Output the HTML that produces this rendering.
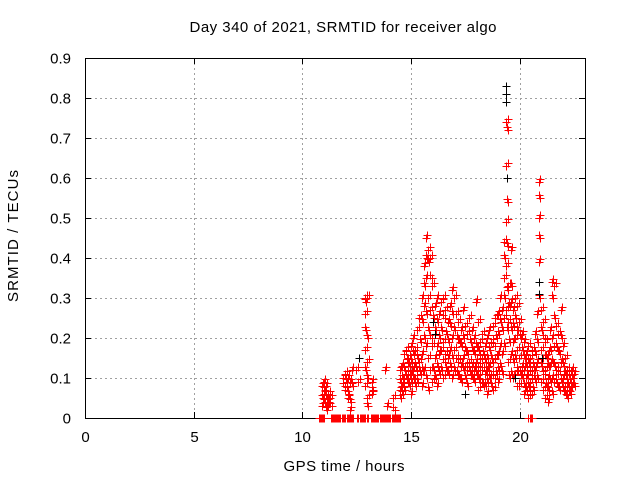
<!DOCTYPE html>
<html><head><meta charset="utf-8"><style>
body{margin:0;background:#fff}
svg{display:block;font-family:"Liberation Sans",sans-serif}
</style></head><body>
<svg id="chart" width="640" height="480" viewBox="0 0 640 480">
<rect width="640" height="480" fill="#fff"/>
<text x="343" y="32" font-size="15" text-anchor="middle" textLength="307" lengthAdjust="spacing">Day 340 of 2021, SRMTID for receiver algo</text>
<g id="grid"></g>
<g id="axes"></g>
<g id="pts"></g>
<text x="344" y="471" font-size="15" text-anchor="middle" textLength="121" lengthAdjust="spacing">GPS time / hours</text>
<text transform="translate(18,236) rotate(-90)" font-size="15" text-anchor="middle" textLength="132" lengthAdjust="spacing">SRMTID / TECUs</text>
</svg>
<script>
const xTicks=[0,5,10,15,20];
const yTicks=[0,0.1,0.2,0.3,0.4,0.5,0.6,0.7,0.8,0.9];
const yTickLabels=["0","0.1","0.2","0.3","0.4","0.5","0.6","0.7","0.8","0.9"];
const redHours=[10.9,11.0,11.1,11.2,11.3,11.9,12.0,12.1,12.2,12.3,12.5,12.6,12.9,13.0,13.2,13.8,13.9,14.2,
14.5,14.6,14.7,14.8,14.9,15.0,15.1,15.2,15.3,15.4,15.5,15.6,15.7,15.8,15.9,16.0,16.1,16.2,16.3,16.4,16.5,16.6,16.7,16.8,16.9,
17.0,17.1,17.2,17.3,17.4,17.5,17.6,17.7,17.8,17.9,18.0,18.1,18.2,18.3,18.4,18.5,18.6,18.7,18.8,18.9,
19.0,19.1,19.2,19.3,19.4,19.5,19.6,19.7,19.8,19.9,20.0,20.1,20.2,20.3,20.4,20.5,20.6,20.7,20.8,20.9,
21.0,21.1,21.2,21.3,21.4,21.5,21.6,21.7,21.8,21.9,22.0,22.1,22.2,22.3,22.4,22.5];
const redValues=[[0.08,0.05,0.03],[0.09,0.07,0.06,0.04],[0.08,0.05,0.03,0.02],[0.06,0.04,0.03,0.05],[0.05,0.03],
[0.1,0.08],[0.11,0.09,0.07],[0.1,0.06,0.05],[0.09,0.04,0.02],[0.12,0.08],[0.12],[0.09],
[0.3,0.29,0.26,0.22,0.17,0.12,0.08],[0.3,0.2,0.14,0.1,0.05,0.03],[0.09,0.07,0.06],[0.12],[0.03],[0.05,0.02],
[0.12,0.09,0.07,0.05],[0.13,0.1,0.08,0.06],[0.16,0.12,0.1,0.07],[0.17,0.14,0.11,0.09],[0.15,0.13,0.1,0.08],
[0.18,0.14,0.11,0.09,0.06],[0.2,0.16,0.12,0.1],[0.17,0.13,0.1,0.08],[0.22,0.15,0.12,0.09],[0.25,0.19,0.14,0.11],
[0.3,0.24,0.16,0.12,0.08],[0.38,0.33,0.28,0.2,0.12],[0.45,0.4,0.35,0.26,0.18,0.1],[0.42,0.39,0.3,0.22,0.15,0.07],
[0.4,0.35,0.27,0.2,0.12],[0.33,0.25,0.18,0.12,0.09],[0.28,0.22,0.15,0.1],[0.3,0.24,0.18,0.13,0.08],[0.26,0.2,0.16,0.11],
[0.29,0.22,0.17,0.12],[0.3,0.25,0.19,0.14,0.1],[0.27,0.21,0.16,0.12],[0.24,0.19,0.15,0.11],[0.28,0.23,0.17,0.13],
[0.32,0.26,0.2,0.15,0.1],[0.3,0.22,0.17,0.12],[0.26,0.2,0.15,0.11],[0.24,0.19,0.14,0.1],[0.22,0.18,0.13,0.09],
[0.27,0.2,0.15,0.12],[0.23,0.17,0.13,0.1],[0.21,0.16,0.12,0.08],[0.25,0.19,0.14,0.11],[0.22,0.17,0.13,0.1],
[0.2,0.16,0.12,0.09],[0.29,0.18,0.14,0.11],[0.24,0.17,0.13,0.1,0.07],[0.19,0.15,0.12,0.09],[0.21,0.16,0.12,0.08],
[0.18,0.14,0.11,0.08],[0.2,0.15,0.12,0.09,0.06],[0.22,0.17,0.13,0.1],[0.19,0.15,0.11,0.08],[0.23,0.18,0.14,0.1,0.07],
[0.25,0.2,0.15,0.11],[0.26,0.21,0.16,0.12,0.09],[0.3,0.24,0.18,0.13],[0.27,0.22,0.16,0.11],
[0.44,0.4,0.35,0.3,0.25,0.18],[0.74,0.72,0.63,0.54,0.49,0.43,0.38,0.32,0.27,0.22],[0.33,0.28,0.24,0.19,0.14,0.1],
[0.42,0.33,0.29,0.22,0.16,0.11],[0.27,0.23,0.19,0.14,0.1],[0.3,0.25,0.2,0.15,0.11],[0.28,0.22,0.17,0.12,0.08],
[0.24,0.2,0.15,0.11,0.08],[0.21,0.17,0.13,0.1],[0.19,0.15,0.12,0.08,0.06],[0.16,0.13,0.1,0.07],[0.18,0.14,0.11,0.08,0.05],
[0.15,0.12,0.09,0.06],[0.17,0.13,0.1,0.07],[0.21,0.16,0.12,0.09],[0.26,0.19,0.14,0.1],[0.59,0.55,0.5,0.45,0.39,0.3],
[0.27,0.22,0.17,0.13,0.09],[0.24,0.2,0.15,0.11,0.07],[0.19,0.15,0.12,0.08,0.05],[0.16,0.13,0.1,0.07,0.04],
[0.22,0.17,0.13,0.09],[0.34,0.3,0.2,0.14,0.1,0.06],[0.33,0.25,0.18,0.13,0.09],[0.23,0.17,0.12,0.08],[0.21,0.16,0.11,0.07],
[0.27,0.2,0.14,0.09],[0.18,0.13,0.1,0.07],[0.15,0.11,0.08,0.06],[0.12,0.09,0.07,0.05],[0.11,0.09,0.07,0.06],
[0.12,0.1,0.08],[0.11,0.08]];
const zeroHours=[10.75,10.85,10.95,11.3,11.4,11.5,11.6,11.7,11.8,11.9,11.98,12.08,12.18,12.3,12.5,12.65,12.75,12.85,12.95,
13.15,13.25,13.35,13.45,13.55,13.65,13.75,13.85,13.95,14.05,14.15,14.25,14.35,14.45,20.4,20.5];
const blackHours=[12.6,16.0,16.1,17.5,19.35,19.35,19.35,19.4,19.8,20.9,20.9,21.0];
const blackValues=[0.15,0.24,0.21,0.06,0.83,0.81,0.79,0.6,0.1,0.34,0.31,0.15];

const NS="http://www.w3.org/2000/svg";
const L=85,R=585,T=58,B=418;
function xs(h){return L+h/23*(R-L);}
function ys(v){return B-v/0.9*(B-T);}
const grid=document.getElementById('grid'),axes=document.getElementById('axes'),pts=document.getElementById('pts');
function ln(p,x1,y1,x2,y2,st,dash){const e=document.createElementNS(NS,'line');e.setAttribute('x1',x1);e.setAttribute('y1',y1);e.setAttribute('x2',x2);e.setAttribute('y2',y2);e.setAttribute('stroke',st);if(dash)e.setAttribute('stroke-dasharray',dash);p.appendChild(e);return e;}
yTicks.forEach((v,i)=>{const y=Math.round(ys(v))+0.5;
 if(i>0&&i<yTicks.length-1){const g=ln(grid,L,y,R,y,'#a0a0a0','2,3');
 
 }
 ln(axes,L,y,L+6,y,'#000');ln(axes,R,y,R-6,y,'#000');
 const t=document.createElementNS(NS,'text');t.setAttribute('x',71);t.setAttribute('y',y+5);t.setAttribute('font-size','15');t.setAttribute('text-anchor','end');t.textContent=yTickLabels[i];
 
 
 axes.appendChild(t);});
xTicks.forEach(h=>{const x=Math.round(xs(h))+0.5;
 if(h>0){const g=ln(grid,x,T,x,B,'#a0a0a0','2,3');
 
 }
 ln(axes,x,B,x,B-6,'#000');ln(axes,x,T,x,T+6,'#000');
 const t=document.createElementNS(NS,'text');t.setAttribute('x',x);t.setAttribute('y',442);t.setAttribute('font-size','15');t.setAttribute('text-anchor','middle');t.textContent=h;
 
 
 axes.appendChild(t);});
const fr=document.createElementNS(NS,'rect');fr.setAttribute('x',L+0.5);fr.setAttribute('y',T+0.5);fr.setAttribute('width',R-L);fr.setAttribute('height',B-T);fr.setAttribute('fill','none');fr.setAttribute('stroke','#000');


axes.appendChild(fr);
function plus(h,v,col){const x=Math.round(xs(h))+0.5,y=Math.round(ys(v))+0.5;
 const p=document.createElementNS(NS,'path');p.setAttribute('d',`M${x-4} ${y}H${x+4}M${x} ${y-4}V${y+4}`);p.setAttribute('stroke',col);p.setAttribute('stroke-width','1');
 
 
 pts.appendChild(p);}
redHours.forEach((h,i)=>{redValues[i].forEach((v,j)=>{plus(h+(j%2?0.04:-0.02),v,'#ff0000');plus(h+(j%2?-0.01:0.05),v+0.008,'#ff0000');});});
zeroHours.forEach(h=>{plus(h,0,'#ff0000');plus(h+0.05,0,'#ff0000');});
blackHours.forEach((h,i)=>plus(h,blackValues[i],'#000'));
</script>
</body></html>
